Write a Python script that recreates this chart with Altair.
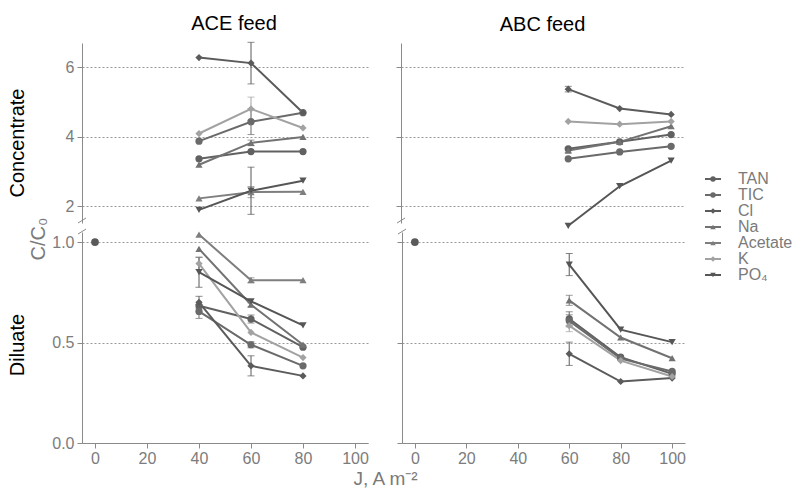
import altair as alt
import pandas as pd

# ---------------- data ----------------
SERIES = ["TAN", "TIC", "Cl", "Na", "Acetate", "K", "PO₄"]
COLORS = ["#616161", "#6a6a6a", "#5b5b5b", "#727272", "#7e7e7e", "#a2a2a2", "#565656"]
SHAPES = ["circle", "circle", "diamond", "triangle-up", "triangle-up", "diamond", "triangle-down"]

J_ACE = [40, 60, 80]
J_ABC = [60, 80, 100]

# ACE feed, concentrate (C/C0)
ACE_CONC = {
    "TAN": [3.36, 3.57, 3.57],
    "TIC": [3.87, 4.43, 4.69],
    "Cl": [6.28, 6.12, 4.69],
    "Na": [3.19, 3.82, 3.99],
    "Acetate": [2.22, 2.40, 2.41],
    "K": [4.09, 4.80, 4.25],
    "PO₄": [1.89, 2.44, 2.73],
}
ACE_CONC_ERR = {
    "TIC": [0, 0.37, 0],
    "Cl": [0, 0.60, 0],
    "Na": [0, 0.08, 0],
    "Acetate": [0, 0.16, 0],
    "K": [0, 0.34, 0],
    "PO₄": [0, 0.68, 0],
}
# ACE feed, diluate
ACE_DIL = {
    "TAN": [0.683, 0.617, 0.477],
    "TIC": [0.655, 0.489, 0.384],
    "Cl": [0.700, 0.384, 0.334],
    "Na": [0.966, 0.688, 0.489],
    "Acetate": [1.037, 0.810, 0.810],
    "K": [0.893, 0.550, 0.425],
    "PO₄": [0.850, 0.705, 0.585],
}
ACE_DIL_ERR = {
    "TAN": [0, 0.02, 0],
    "TIC": [0.035, 0.015, 0],
    "Cl": [0.03, 0.05, 0],
    "Na": [0, 0.01, 0],
    "Acetate": [0, 0.012, 0],
    "K": [0.03, 0, 0],
    "PO₄": [0.075, 0, 0],
}
# ABC feed, concentrate
ABC_CONC = {
    "TAN": [3.65, 3.85, 4.06],
    "TIC": [3.36, 3.56, 3.72],
    "Cl": [5.37, 4.81, 4.64],
    "Na": [3.60, 3.85, 4.30],
    "K": [4.44, 4.36, 4.44],
    "PO₄": [1.43, 2.57, 3.31],
}
ABC_CONC_ERR = {
    "Cl": [0.08, 0, 0],
    "Na": [0.05, 0, 0],
}
# ABC feed, diluate
ABC_DIL = {
    "TAN": [0.618, 0.427, 0.344],
    "TIC": [0.608, 0.420, 0.356],
    "Cl": [0.444, 0.306, 0.323],
    "Na": [0.710, 0.525, 0.422],
    "K": [0.584, 0.410, 0.331],
    "PO₄": [0.888, 0.564, 0.502],
}
ABC_DIL_ERR = {
    "TAN": [0.035, 0, 0],
    "TIC": [0.03, 0, 0],
    "Cl": [0.058, 0, 0],
    "Na": [0.025, 0, 0],
    "K": [0.03, 0, 0],
    "PO₄": [0.055, 0, 0],
}
INIT_J = [0]
INIT_C = [1.0]

X_TICKS = [0, 20, 40, 60, 80, 100]
CONC_TICKS = [2, 4, 6]
DIL_TICKS = [0.0, 0.5, 1.0]

ROW_LABELS = ["Concentrate", "Diluate"]
Y_TITLE = "C/C₀"
X_TITLE = "J, A m⁻²"

# ---------------- style ----------------
TICK_FONT = "Liberation Sans Narrow, Liberation Sans, Arial, sans-serif"
TEXT_FONT = "Liberation Sans, Arial, sans-serif"
AX_COL = "#8a8a8a"
LAB_COL = "#7c7c7c"

W_L, W_R = 286, 283
H_T, H_B = 180, 211
LEFT_EXT = 30

color_scale = alt.Scale(domain=SERIES, range=COLORS)
shape_scale = alt.Scale(domain=SERIES, range=SHAPES)
x_scale = alt.Scale(domain=[-5, 105], nice=False, zero=False)


def long_df(vals, errs, J, init=False):
    rows = []
    for s in SERIES:
        if s in vals:
            e = errs.get(s, [0] * len(J))
            for j, c, d in zip(J, vals[s], e):
                rows.append({"series": s, "J": j, "C": c, "lo": c - d, "hi": c + d,
                             "err": d > 0, "init": False})
    if init:
        for j, c in zip(INIT_J, INIT_C):
            rows.append({"series": "init", "J": j, "C": c, "lo": c, "hi": c,
                         "err": False, "init": True})
    return pd.DataFrame(rows)


def panel(vals, errs, J, ydom, yvals, width, height, left, bottom, fmt,
          title=None, title_dx=0, initial=False):
    df = long_df(vals, errs, J, initial)
    y_scale = alt.Scale(domain=ydom, nice=False, zero=False)
    if bottom:
        xax = alt.Axis(values=X_TICKS, title=None, grid=False, domainColor=AX_COL,
                       tickColor=AX_COL, tickSize=5, labelColor=LAB_COL, labelFont=TICK_FONT,
                       labelFontSize=16, labelPadding=2)
    else:
        xax = None
    ext = LEFT_EXT if left else 5
    yax = alt.Axis(values=yvals, format=fmt, grid=True, gridDash=[2, 2], gridColor="#9a9a9a",
                   gridWidth=1, domainColor=AX_COL, tickColor=AX_COL, tickSize=5,
                   labels=left, labelColor=LAB_COL, labelFont=TICK_FONT, labelFontSize=16,
                   labelPadding=3, title=None, minExtent=ext, maxExtent=ext)
    x = alt.X("J:Q", scale=x_scale, axis=xax)
    y = alt.Y("C:Q", scale=y_scale, axis=yax)
    ylo = alt.Y("lo:Q", scale=y_scale, axis=yax)
    yhi = alt.Y("hi:Q", scale=y_scale, axis=yax)
    col = alt.Color("series:N", scale=color_scale, legend=None)
    base = alt.Chart(df)
    main = base.transform_filter("!datum.init")
    errs_c = base.transform_filter("datum.err")
    layers = [
        errs_c.mark_rule(strokeWidth=1).encode(x=x, y=ylo, y2="hi:Q", color=col),
        errs_c.mark_tick(size=7, thickness=1, orient="horizontal").encode(x=x, y=ylo, color=col),
        errs_c.mark_tick(size=7, thickness=1, orient="horizontal").encode(x=x, y=yhi, color=col),
        main.mark_line(strokeWidth=2).encode(x=x, y=y, color=col, detail="series:N"),
        main.mark_point(filled=True, size=52, opacity=1).encode(
            x=x, y=y, color=col,
            shape=alt.Shape("series:N", scale=shape_scale, legend=None)),
    ]
    if initial:
        layers.append(base.transform_filter("datum.init").mark_point(
            filled=True, size=60, opacity=1, color="#5a5a5a", shape="circle").encode(x=x, y=y))
    # axis-break slash on the y axis
    if bottom:
        by, by2 = 2, -3
    else:
        by, by2 = height, height - 5
    layers.append(alt.Chart(pd.DataFrame({"a": [0]})).mark_rule(
        color=AX_COL, strokeWidth=1).encode(
        x=alt.value(-4), x2=alt.value(4), y=alt.value(by), y2=alt.value(by2)))
    ch = alt.layer(*layers).properties(width=width, height=height)
    if title:
        ch = ch.properties(title=alt.TitleParams(title, fontSize=20, font=TEXT_FONT,
                                                 fontWeight="normal", color="black",
                                                 offset=8, dx=title_dx))
    return ch


p1 = panel(ACE_CONC, ACE_CONC_ERR, J_ACE, [1.51, 6.70], CONC_TICKS, W_L, H_T,
           True, False, "d", title="ACE feed", title_dx=9)
p2 = panel(ABC_CONC, ABC_CONC_ERR, J_ABC, [1.51, 6.70], CONC_TICKS, W_R, H_T,
           False, False, "d", title="ABC feed")
p3 = panel(ACE_DIL, ACE_DIL_ERR, J_ACE, [0, 1.05], DIL_TICKS, W_L, H_B,
           True, True, ".1f", initial=True)
p4 = panel(ABC_DIL, ABC_DIL_ERR, J_ABC, [0, 1.05], DIL_TICKS, W_R, H_B,
           False, True, ".1f", initial=True)

top_row = alt.hconcat(p1, p2, spacing=27)
bot_row = alt.hconcat(p3, p4, spacing=27)
grid = alt.vconcat(top_row, bot_row, spacing=-2).properties(
    title=alt.TitleParams(X_TITLE, orient="bottom", anchor="middle", fontSize=19,
                          font=TEXT_FONT, fontWeight="normal", color="#7a7a7a",
                          offset=4, dx=17))

# row labels + shared y title column (left)
lab_df = pd.DataFrame({"label": ROW_LABELS + [Y_TITLE],
                       "ypos": [100, 302, 196],
                       "xpos": [24, 24, 45]})
lx = alt.X("xpos:Q", scale=alt.Scale(domain=[0, 51], range=[0, 51]), axis=None)
ly = alt.Y("ypos:Q", scale=alt.Scale(domain=[0, 400], range=[0, 400]), axis=None)
lab_base = alt.Chart(lab_df)
labels = alt.layer(
    lab_base.transform_filter(alt.FieldOneOfPredicate(field="label", oneOf=ROW_LABELS))
    .mark_text(angle=270, baseline="alphabetic", align="center", font=TEXT_FONT,
               fontSize=20, color="black").encode(text="label:N", x=lx, y=ly),
    lab_base.transform_filter(alt.FieldEqualPredicate(field="label", equal=Y_TITLE))
    .mark_text(angle=270, baseline="alphabetic", align="center", font=TEXT_FONT,
               fontSize=20, color="#7a7a7a").encode(text="label:N", x=lx, y=ly),
).properties(width=51, height=400)

# legend column (right)
leg_df = pd.DataFrame({"series": SERIES})
leg_y = alt.Y("series:N", sort=SERIES, axis=None,
              scale=alt.Scale(type="point", domain=SERIES, range=[136, 232], padding=0))
leg_col = alt.Color("series:N", scale=color_scale, legend=None)
leg_base = alt.Chart(leg_df)
leg = alt.layer(
    leg_base.mark_rule(strokeWidth=2).encode(
        y=leg_y, x=alt.value(19), x2=alt.value(35), color=leg_col),
    leg_base.mark_point(filled=True, size=30, opacity=1).encode(
        y=leg_y, x=alt.value(27), color=leg_col,
        shape=alt.Shape("series:N", scale=shape_scale, legend=None)),
    leg_base.mark_text(align="left", baseline="middle", fontSize=16, font=TEXT_FONT,
                       color="#7a7a7a").encode(
        y=leg_y, x=alt.value(52), text="series:N"),
).properties(width=110, height=300)

chart = alt.hconcat(labels, grid, leg, spacing=0).properties(
    padding={"left": 0, "top": 13, "right": 0, "bottom": 0},
    background="white",
).configure_view(stroke=None)

chart.save("out.html", embed_options={"renderer": "svg", "actions": False})
